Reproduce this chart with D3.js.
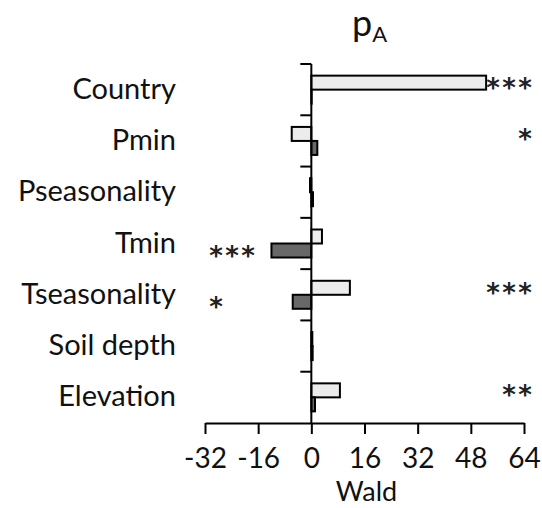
<!DOCTYPE html>
<html lang="en">
<head>
  <meta charset="UTF-8">
  <title>pA Wald</title>
  <style>
    body { margin: 0; background: #fff; }
    text { font-family: Lato, "Open Sans", sans-serif; fill: #111; }
    .axis-line { stroke: #000; stroke-width: 2px; fill: none; }
    .bar { stroke: #000; stroke-width: 2px; }
    .star { font-family: "DejaVu Sans", sans-serif; font-size: 26px; font-weight: bold; fill: #222; }
  </style>
</head>
<body>
  <svg width="542" height="508"></svg>

  <script src="https://d3js.org/d3.v7.min.js"></script>
  <script>
    const categories = ["Country", "Pmin", "Pseasonality", "Tmin", "Tseasonality", "Soil depth", "Elevation"];
    // upper (light) and lower (dark) bar of each category
    const lightValues = [52.6, -5.9, -0.4, 3.2, 11.6, 0.3, 8.6];
    const darkValues = [0.1, 1.8, 0.5, -12.0, -5.6, 0.4, 1.1];
    const lightStars = ["***", "*", "", "", "***", "", "**"];
    const darkStars = ["", "", "", "***", "*", "", ""];
    const xTicks = [-32, -16, 0, 16, 32, 48, 64];

    const svg = d3.select("svg");

    const x = d3.scaleLinear().domain([-32, 64]).range([205, 524]);
    const y = d3.scaleBand().domain(categories).range([64, 423]).paddingInner(0);
    const barH = 14;
    const mid = c => y(c) + y.bandwidth() / 2;

    const rows = categories.map((c, i) => ({ c, light: lightValues[i], dark: darkValues[i] }));

    // bars
    svg.selectAll(".bar-light")
      .data(rows)
      .join("rect")
      .attr("class", "bar")
      .attr("fill", "#ececec")
      .attr("x", d => x(Math.min(0, d.light)))
      .attr("width", d => Math.abs(x(d.light) - x(0)))
      .attr("y", d => mid(d.c) - barH)
      .attr("height", barH);

    svg.selectAll(".bar-dark")
      .data(rows)
      .join("rect")
      .attr("class", "bar")
      .attr("fill", "#686868")
      .attr("x", d => x(Math.min(0, d.dark)))
      .attr("width", d => Math.abs(x(d.dark) - x(0)))
      .attr("y", d => mid(d.c))
      .attr("height", barH);

    // y axis: line at zero with ticks between categories
    svg.append("line").attr("class", "axis-line")
      .attr("x1", x(0)).attr("x2", x(0))
      .attr("y1", y.range()[0]).attr("y2", y.range()[1]);

    svg.selectAll(".ytick")
      .data(categories.map(c => y(c)))
      .join("line")
      .attr("class", "axis-line")
      .attr("x1", x(0) - 11).attr("x2", x(0))
      .attr("y1", d => d).attr("y2", d => d);

    svg.selectAll(".ylabel")
      .data(categories)
      .join("text")
      .attr("x", 176)
      .attr("y", d => mid(d) + 9)
      .attr("text-anchor", "end")
      .style("font-size", "29px")
      .text(d => d);

    // x axis
    const xAxis = svg.append("g")
      .attr("transform", `translate(0,${y.range()[1]})`)
      .call(d3.axisBottom(x).tickValues(xTicks).tickSize(11).tickSizeOuter(0).tickPadding(14)
        .tickFormat(d => String(d)));
    xAxis.select(".domain").attr("stroke-width", 2);
    xAxis.selectAll(".tick line").attr("stroke-width", 2);
    xAxis.selectAll(".tick text")
      .style("font-size", "28px")
      .style("font-family", "Lato, 'Open Sans', sans-serif")
      .attr("fill", "#111");

    svg.append("text")
      .attr("x", (x.range()[0] + x.range()[1]) / 2 + 2)
      .attr("y", 501)
      .attr("text-anchor", "middle")
      .style("font-size", "27px")
      .text("Wald");

    // significance marks, one glyph per star
    const starGap = 16;
    const lightMarks = [];
    const darkMarks = [];
    categories.forEach((c, i) => {
      for (let k = 0; k < lightStars[i].length; k++) lightMarks.push({ c, k });
      for (let k = 0; k < darkStars[i].length; k++) darkMarks.push({ c, k });
    });

    svg.selectAll(".star-light")
      .data(lightMarks)
      .join("text")
      .attr("class", "star")
      .attr("x", d => 525 - d.k * starGap)
      .attr("y", d => mid(d.c) - 7 + 14)
      .attr("text-anchor", "middle")
      .text("*");

    svg.selectAll(".star-dark")
      .data(darkMarks)
      .join("text")
      .attr("class", "star")
      .attr("x", d => 216 + d.k * starGap)
      .attr("y", d => mid(d.c) + 7 + 14)
      .attr("text-anchor", "middle")
      .text("*");

    // title
    const title = svg.append("text")
      .attr("x", 352)
      .attr("y", 36)
      .style("font-size", "36px");
    title.append("tspan").text("p");
    title.append("tspan").attr("dy", 6).style("font-size", "22px").text("A");
  </script>
</body>
</html>
